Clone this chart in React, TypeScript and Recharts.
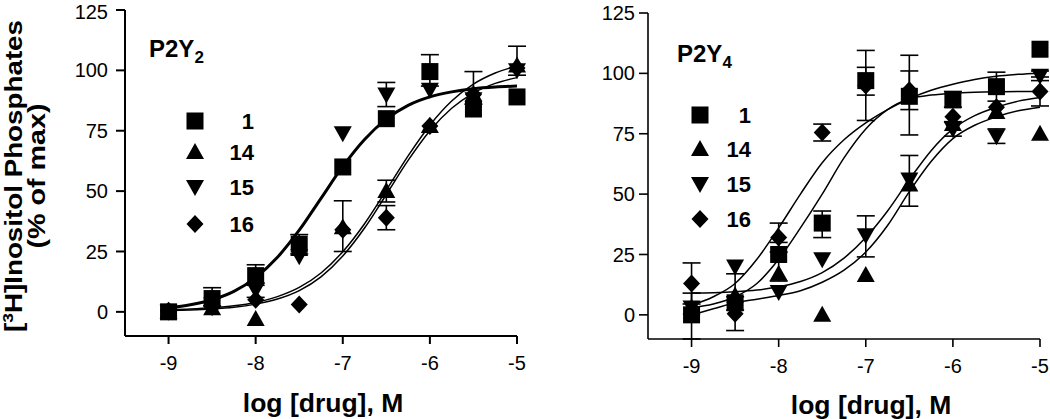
import React from 'react';
import { ComposedChart, Line, Scatter, ErrorBar, XAxis, YAxis } from 'recharts';

// log [drug], M at which the points were measured
const doses = [-9, -8.5, -8, -7.5, -7, -6.5, -6, -5.5, -5];
const curveDoses = [-9, -8.75, -8.5, -8.25, -8, -7.75, -7.5, -7.25, -7, -6.75, -6.5, -6.25, -6, -5.75, -5.5, -5.25, -5];
const xTicks = [-9, -8, -7, -6, -5];
const yTicks = [0, 25, 50, 75, 100, 125];

type Err = [number, number] | null;

// P2Y2 panel
const p2y2Cmp1 = [0, 5.5, 15, 28, 60, 80, 99.5, 84, 89];
const p2y2Cmp1Err: Err[] = [null, [3, 4.5], [4, 4.5], [4, 4], null, null, [6, 7], null, null];
const p2y2Cmp14 = [0, 1.5, -3, 26, 35, 50, 77, 90, 102];
const p2y2Cmp14Err: Err[] = [null, null, null, null, [10, 11], [4.5, 4.5], null, [4, 9.5], null];
const p2y2Cmp15 = [0, 3, 9, 23, 74, 90, 92, 88, 100];
const p2y2Cmp15Err: Err[] = [null, null, [3, 3], null, null, [5, 5], null, null, [2, 10]];
const p2y2Cmp16 = [0.5, 2, 5, 3, 34, 39, 77, 90, 101];
const p2y2Cmp16Err: Err[] = [null, null, null, null, null, [5, 5], null, null, null];

const p2y2Fit1 = [1.6, 2.9, 5.0, 8.5, 14.2, 22.6, 33.8, 47, 60.2, 71.4, 79.8, 85.5, 89, 91.1, 92.4, 93.1, 93.5];
const p2y2Fit14 = [0.9, 1.2, 1.7, 2.5, 3.9, 6.3, 10.1, 16.1, 24.9, 36.5, 50.4, 64.6, 77.3, 87.3, 94.3, 98.9, 101.8];
const p2y2Fit16 = [0.6, 0.8, 1.2, 1.9, 3.2, 5.3, 8.8, 14.5, 23.1, 34.7, 48.6, 62.7, 75, 84.3, 90.6, 94.6, 97];

// P2Y4 panel
const p2y4Cmp1 = [0, 5, 25, 38, 97, 90.5, 89, 94.5, 110];
const p2y4Cmp1Err: Err[] = [[10, 9], [3, 12], [11, 5], [6, 5], [6, 5.5], [16, 17], [3, 3.5], [6, 6], null];
const p2y4Cmp14 = [3, 8, 17, 0, 16.5, 54, 79, 84, 75];
const p2y4Cmp14Err: Err[] = [null, null, null, null, null, null, null, null, null];
const p2y4Cmp15 = [3, 20, 9.5, 23, 33, 56, 77, 74, 99];
const p2y4Cmp15Err: Err[] = [null, null, null, null, [9, 8], [11, 10], [3, 3], [3, 3], [2, 2]];
const p2y4Cmp16 = [13, 0.5, 32, 75.5, 95, 93, 82, 86, 92.5];
const p2y4Cmp16Err: Err[] = [[8.5, 8.5], [7, 7], [6, 6], [3.5, 3.5], [14.5, 14.5], [8, 8], null, null, [6, 6]];

const p2y4Fit16 = [4, 7.5, 13, 23, 36, 50, 63, 72.5, 79.5, 85, 89.5, 93, 95.5, 97.5, 98.8, 99.6, 100.2];
const p2y4Fit1 = [3, 4.5, 7.5, 13, 23, 36, 50, 65, 77, 85, 89.5, 91, 91.8, 92.2, 92.4, 92.5, 92.5];
const p2y4Fit15 = [9, 9.2, 9.6, 10.3, 11.6, 13.8, 17.5, 23.5, 32, 43, 56, 68, 77, 82.5, 86, 88.5, 90];
const p2y4Fit14 = [0, 2.5, 5, 6.5, 8, 10, 13.5, 18.5, 26, 37, 51, 63.5, 73, 78.5, 82, 84.5, 86];

const legendLabels = ['1', '14', '15', '16'];

const FONT = '"Liberation Sans", Arial, Helvetica, sans-serif';

type Kind = 'square' | 'up' | 'down' | 'diamond';
const kinds: Kind[] = ['square', 'up', 'down', 'diamond'];

function Marker({ kind, cx, cy }: { kind: Kind; cx: number; cy: number }) {
  if (kind === 'square') return <rect x={cx - 8.5} y={cy - 8.5} width={17} height={17} fill="#000" />;
  if (kind === 'up')
    return <polygon points={`${cx},${cy - 9} ${cx + 9},${cy + 7} ${cx - 9},${cy + 7}`} fill="#000" />;
  if (kind === 'down')
    return <polygon points={`${cx - 9},${cy - 7} ${cx + 9},${cy - 7} ${cx},${cy + 9}`} fill="#000" />;
  return <polygon points={`${cx},${cy - 9} ${cx + 8.5},${cy} ${cx},${cy + 9} ${cx - 8.5},${cy}`} fill="#000" />;
}

const shapeFor = (kind: Kind) => (props: any) => <Marker kind={kind} cx={props.cx} cy={props.cy} />;

const toPoints = (ys: number[], errs: Err[]) => doses.map((x, i) => ({ x, y: ys[i], err: errs[i] }));
const toCurve = (ys: number[]) => curveDoses.map((x, i) => ({ x, y: ys[i] }));

type Panel = {
  series: { ys: number[]; errs: Err[] }[];
  fits: { ys: number[]; width: number }[];
  width: number;
  margin: { top: number; right: number; bottom: number; left: number };
  axisWidth: number;
  yTickMargin: number;
};

function DosePanel({ series, fits, width, margin, axisWidth, yTickMargin }: Panel) {
  const tick = { fill: '#000', fontSize: 20, fontFamily: FONT };
  return (
    <ComposedChart width={width} height={419} margin={margin}>
      <XAxis
        type="number"
        dataKey="x"
        domain={[-9.5, -5]}
        ticks={xTicks}
        height={40}
        tickSize={8}
        tickMargin={12}
        tick={tick}
        axisLine={{ stroke: '#000', strokeWidth: axisWidth }}
        tickLine={{ stroke: '#000', strokeWidth: axisWidth }}
      />
      <YAxis
        type="number"
        domain={[-10, 125]}
        ticks={yTicks}
        width={60}
        tickSize={9}
        tickMargin={yTickMargin}
        tick={tick}
        axisLine={{ stroke: '#000', strokeWidth: axisWidth }}
        tickLine={{ stroke: '#000', strokeWidth: axisWidth }}
      />
      {fits.map((f, i) => (
        <Line
          key={`fit-${i}`}
          data={toCurve(f.ys)}
          dataKey="y"
          type="monotone"
          stroke="#000"
          strokeWidth={f.width}
          dot={false}
          activeDot={false}
          isAnimationActive={false}
        />
      ))}
      {series.map((s, i) => (
        <Scatter
          key={`pts-${i}`}
          data={toPoints(s.ys, s.errs)}
          dataKey="y"
          shape={shapeFor(kinds[i])}
          isAnimationActive={false}
        >
          <ErrorBar dataKey="err" direction="y" width={9} stroke="#000" strokeWidth={1.6} />
        </Scatter>
      ))}
    </ComposedChart>
  );
}

function Legend({ x, labelX, ys }: { x: number; labelX: number; ys: number[] }) {
  return (
    <g>
      {legendLabels.map((label, i) => (
        <g key={label}>
          <Marker kind={kinds[i]} cx={x} cy={ys[i]} />
          <text x={labelX} y={ys[i] + 8} textAnchor="end" fontSize={22} fontWeight="bold" fontFamily={FONT}>
            {label}
          </text>
        </g>
      ))}
    </g>
  );
}

export default function App() {
  return (
    <div style={{ position: 'absolute', left: 0, top: 0, width: 1050, height: 419, background: '#fff' }}>
      <div style={{ position: 'absolute', left: 0, top: 0 }}>
        <DosePanel
          width={540}
          margin={{ top: 10, right: 23, bottom: 43, left: 65 }}
          axisWidth={2}
          yTickMargin={8}
          series={[
            { ys: p2y2Cmp1, errs: p2y2Cmp1Err },
            { ys: p2y2Cmp14, errs: p2y2Cmp14Err },
            { ys: p2y2Cmp15, errs: p2y2Cmp15Err },
            { ys: p2y2Cmp16, errs: p2y2Cmp16Err },
          ]}
          fits={[
            { ys: p2y2Fit14, width: 1.5 },
            { ys: p2y2Fit16, width: 1.5 },
            { ys: p2y2Fit1, width: 3 },
          ]}
        />
      </div>
      <div style={{ position: 'absolute', left: 540, top: 0 }}>
        <DosePanel
          width={510}
          margin={{ top: 13, right: 10, bottom: 40, left: 48 }}
          axisWidth={1.6}
          yTickMargin={4}
          series={[
            { ys: p2y4Cmp1, errs: p2y4Cmp1Err },
            { ys: p2y4Cmp14, errs: p2y4Cmp14Err },
            { ys: p2y4Cmp15, errs: p2y4Cmp15Err },
            { ys: p2y4Cmp16, errs: p2y4Cmp16Err },
          ]}
          fits={[
            { ys: p2y4Fit16, width: 1.5 },
            { ys: p2y4Fit1, width: 1.5 },
            { ys: p2y4Fit15, width: 1.5 },
            { ys: p2y4Fit14, width: 1.5 },
          ]}
        />
      </div>
      <svg
        width={1050}
        height={419}
        style={{ position: 'absolute', left: 0, top: 0, pointerEvents: 'none' }}
        fontFamily={FONT}
      >
        <text transform="translate(22,176) rotate(-90)" textAnchor="middle" fontSize={24} fontWeight="bold"
          textLength={312} lengthAdjust="spacingAndGlyphs">
          [<tspan fontSize={15} dy={-9}>3</tspan><tspan dy={9}>H]Inositol Phosphates</tspan>
        </text>
        <text transform="translate(45,176) rotate(-90)" textAnchor="middle" fontSize={24} fontWeight="bold"
          textLength={145} lengthAdjust="spacingAndGlyphs">
          (% of max)
        </text>

        <text x={149} y={57} fontSize={24} fontWeight="bold">
          P2Y<tspan fontSize={17} dy={6}>2</tspan>
        </text>
        <text x={677} y={62} fontSize={24} fontWeight="bold">
          P2Y<tspan fontSize={17} dy={6}>4</tspan>
        </text>

        <Legend x={195} labelX={254} ys={[121, 152, 187, 224]} />
        <Legend x={700} labelX={751} ys={[115, 149, 184, 219]} />

        <text x={323} y={412} textAnchor="middle" fontSize={26.5} fontWeight="bold">log [drug], M</text>
        <text x={871} y={414} textAnchor="middle" fontSize={26.5} fontWeight="bold">log [drug], M</text>
      </svg>
    </div>
  );
}
